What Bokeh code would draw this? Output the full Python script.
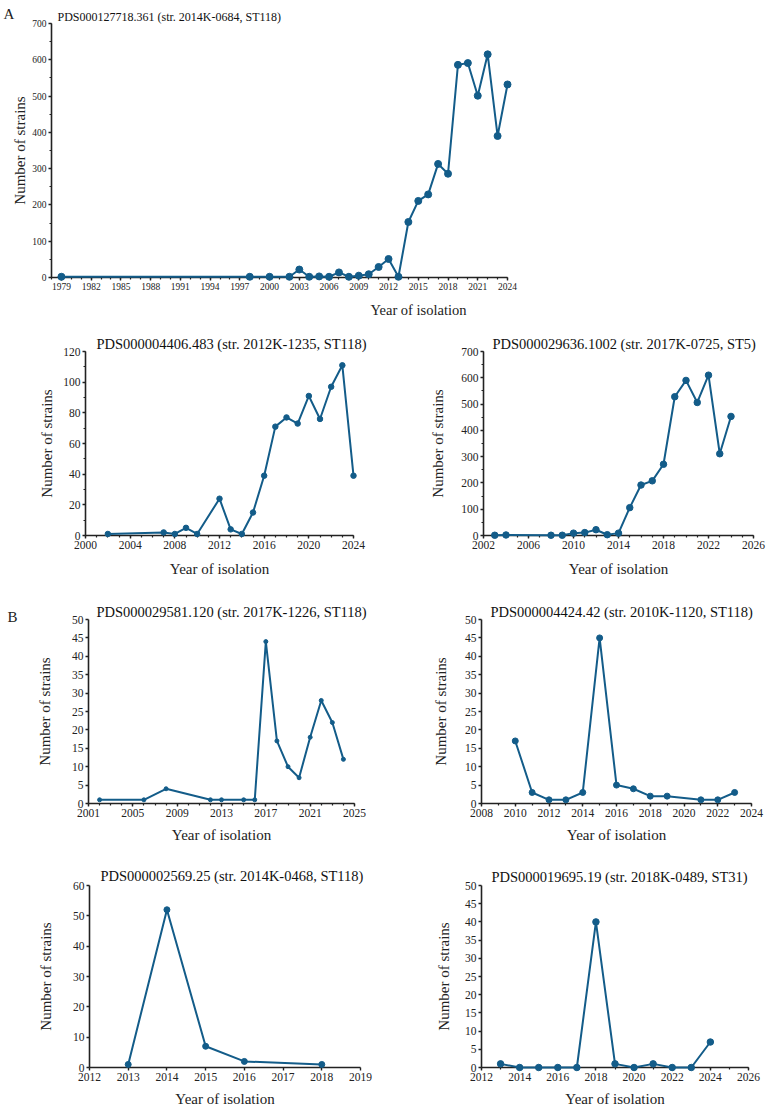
from bokeh.plotting import figure
from bokeh.layouts import column, row
from bokeh.models import Range1d, FixedTicker
from bokeh.core.properties import value
from bokeh.embed import file_html
from bokeh.resources import INLINE

# ---------------- data ----------------
a1_years = [1979, 1998, 2000, 2002, 2003, 2004, 2005, 2006, 2007, 2008, 2009, 2010, 2011, 2012,
            2013, 2014, 2015, 2016, 2017, 2018, 2019, 2020, 2021, 2022, 2023, 2024]
a1_counts = [2, 2, 2, 2, 22, 2, 3, 2, 14, 2, 5, 9, 29, 51,
             2, 153, 211, 229, 313, 286, 586, 591, 501, 615, 390, 532]
a1_title = "PDS000127718.361 (str. 2014K-0684, ST118)"
a1_xticks = [1979, 1982, 1985, 1988, 1991, 1994, 1997, 2000, 2003, 2006, 2009, 2012, 2015, 2018, 2021, 2024]
a1_yticks = [0, 100, 200, 300, 400, 500, 600, 700]

a2_years = [2002, 2007, 2008, 2009, 2010, 2012, 2013, 2014, 2015, 2016, 2017, 2018, 2019, 2020, 2021, 2022, 2023, 2024]
a2_counts = [1, 2, 1, 5, 1, 24, 4, 1, 15, 39, 71, 77, 73, 91, 76, 97, 111, 39]
a2_title = "PDS000004406.483 (str. 2012K-1235, ST118)"
a2_xticks = [2000, 2004, 2008, 2012, 2016, 2020, 2024]
a2_yticks = [0, 20, 40, 60, 80, 100, 120]

a3_years = [2003, 2004, 2008, 2009, 2010, 2011, 2012, 2013, 2014, 2015, 2016, 2017, 2018, 2019, 2020, 2021, 2022, 2023, 2024]
a3_counts = [1, 2, 1, 1, 9, 11, 22, 3, 9, 106, 192, 208, 271, 528, 590, 506, 610, 311, 453]
a3_title = "PDS000029636.1002 (str. 2017K-0725, ST5)"
a3_xticks = [2002, 2006, 2010, 2014, 2018, 2022, 2026]
a3_yticks = [0, 100, 200, 300, 400, 500, 600, 700]

b1_years = [2002, 2006, 2008, 2012, 2013, 2015, 2016, 2017, 2018, 2019, 2020, 2021, 2022, 2023, 2024]
b1_counts = [1, 1, 4, 1, 1, 1, 1, 44, 17, 10, 7, 18, 28, 22, 12]
b1_title = "PDS000029581.120 (str. 2017K-1226, ST118)"
b1_xticks = [2001, 2005, 2009, 2013, 2017, 2021, 2025]
b1_yticks = [0, 5, 10, 15, 20, 25, 30, 35, 40, 45, 50]

b2_years = [2010, 2011, 2012, 2013, 2014, 2015, 2016, 2017, 2018, 2019, 2021, 2022, 2023]
b2_counts = [17, 3, 1, 1, 3, 45, 5, 4, 2, 2, 1, 1, 3]
b2_title = "PDS000004424.42 (str. 2010K-1120, ST118)"
b2_xticks = [2008, 2010, 2012, 2014, 2016, 2018, 2020, 2022, 2024]
b2_yticks = [0, 5, 10, 15, 20, 25, 30, 35, 40, 45, 50]

b3_years = [2013, 2014, 2015, 2016, 2018]
b3_counts = [1, 52, 7, 2, 1]
b3_title = "PDS000002569.25 (str. 2014K-0468, ST118)"
b3_xticks = [2012, 2013, 2014, 2015, 2016, 2017, 2018, 2019]
b3_yticks = [0, 10, 20, 30, 40, 50, 60]

b4_years = [2013, 2014, 2015, 2016, 2017, 2018, 2019, 2020, 2021, 2022, 2023, 2024]
b4_counts = [1, 0, 0, 0, 0, 40, 1, 0, 1, 0, 0, 7]
b4_title = "PDS000019695.19 (str. 2018K-0489, ST31)"
b4_xticks = [2012, 2014, 2016, 2018, 2020, 2022, 2024, 2026]
b4_yticks = [0, 5, 10, 15, 20, 25, 30, 35, 40, 45, 50]

x_label = "Year of isolation"
y_label = "Number of strains"
panel_letters = ["A", "B"]

COLOR = "#135C89"
FONT = "Liberation Serif"


def panel(width, height, bl, br, bt, bb, xs, ys, title, xticks, xminor, yticks, yminor,
          msize, title_off, tick_fs="11.5px", title_fs="14.5px", xlab=True,
          ylab_standoff=10, xlab_standoff=7, title_standoff=0, xr=None):
    if xr is None:
        xr = (xticks[0], xticks[-1])
    p = figure(width=width, height=height, output_backend="svg", toolbar_location=None,
               x_range=Range1d(*xr), y_range=Range1d(yticks[0], yticks[-1]),
               min_border_left=bl, min_border_right=br, min_border_top=bt, min_border_bottom=bb)
    p.xgrid.visible = False
    p.ygrid.visible = False
    p.outline_line_color = None
    p.background_fill_color = "white"
    p.border_fill_color = "white"
    p.title.text = title
    p.title.text_font = FONT
    p.title.text_font_size = title_fs
    p.title.text_font_style = "normal"
    p.title.align = "left"
    p.title.offset = title_off
    p.title.standoff = title_standoff
    p.title.text_color = "#111111"
    p.xaxis.ticker = FixedTicker(ticks=xticks, minor_ticks=xminor)
    p.yaxis.ticker = FixedTicker(ticks=yticks, minor_ticks=yminor)
    for ax in (p.xaxis[0], p.yaxis[0]):
        ax.axis_line_width = 1.6
        ax.axis_line_color = "#222222"
        ax.major_tick_line_width = 1.4
        ax.minor_tick_line_width = 1.2
        ax.major_tick_line_color = "#222222"
        ax.minor_tick_line_color = "#222222"
        ax.major_tick_out = 3
        ax.major_tick_in = 0
        ax.minor_tick_out = 2
        ax.minor_tick_in = 0
        ax.major_label_text_font = FONT
        ax.major_label_text_font_size = tick_fs
        ax.major_label_text_color = "#222222"
        ax.major_label_standoff = 2
        ax.axis_label_text_font = FONT
        ax.axis_label_text_font_size = "15px"
        ax.axis_label_text_font_style = "normal"
        ax.axis_label_text_color = "#222222"
    p.yaxis.axis_label = y_label
    p.yaxis.axis_label_standoff = ylab_standoff
    if xlab:
        p.xaxis.axis_label = x_label
        p.xaxis.axis_label_standoff = xlab_standoff
    p.line(xs, ys, line_color=COLOR, line_width=2, level="overlay")
    p.scatter(xs, ys, size=msize, fill_color=COLOR, line_color=COLOR, level="overlay")
    return p


def corner_text(p, text, corner, dx, dy, size="15px", align="left", baseline="alphabetic"):
    """Text anchored at a frame corner (taken from the ranges) and offset in pixels."""
    cx = p.x_range.start
    cy = p.y_range.end if corner == "top" else p.y_range.start
    p.text(x=[cx], y=[cy], text=[text], x_offset=dx, y_offset=dy,
           text_font=value(FONT), text_font_size=size, text_align=align,
           text_baseline=baseline, text_color="#222222", level="overlay")


# Panel A (top, wide)
pA = panel(767, 322, 51, 260, 23, 45, a1_years, a1_counts, a1_title, a1_xticks,
           list(range(1978, 2025)), a1_yticks, list(range(0, 701, 50)), 7, 6,
           tick_fs="9.5px", title_fs="12px", xlab=False, ylab_standoff=1, xr=(1978, 2024))
corner_text(pA, x_label, "bottom", 367, 32, size="14.5px", align="center", baseline="middle")
corner_text(pA, panel_letters[0], "top", -48, -10)

pA2 = panel(384, 258, 85, 31, 27, 41, a2_years, a2_counts, a2_title, a2_xticks,
            list(range(2000, 2025)), a2_yticks, list(range(0, 121, 10)), 5.5, 11,
            ylab_standoff=5, xlab_standoff=9)
pA3 = panel(383, 258, 99, 14, 29, 45, a3_years, a3_counts, a3_title, a3_xticks,
            list(range(2002, 2027)), a3_yticks, list(range(0, 701, 50)), 6.5, 9,
            ylab_standoff=12, xlab_standoff=9)

pB1 = panel(384, 265, 88, 30, 36, 41, b1_years, b1_counts, b1_title, b1_xticks,
            list(range(2001, 2026)), b1_yticks, [], 4, 8, ylab_standoff=16)
corner_text(pB1, panel_letters[1], "top", -81, -3)
pB2 = panel(383, 265, 97, 16, 39, 38, b2_years, b2_counts, b2_title, b2_xticks,
            list(range(2008, 2025)), b2_yticks, [], 6, 9, ylab_standoff=13)

pB3 = panel(384, 264, 89, 24, 40, 38, b3_years, b3_counts, b3_title, b3_xticks,
            [], b3_yticks, [], 6, 11, ylab_standoff=16, title_standoff=4)
pB4 = panel(383, 264, 97, 19, 37, 39, b4_years, b4_counts, b4_title, b4_xticks,
            list(range(2012, 2027)), b4_yticks, [], 6.5, 10, ylab_standoff=10, title_standoff=2)

layout = column(row(pA), row(pA2, pA3), row(pB1, pB2), row(pB3, pB4), spacing=0)

with open("out.html", "w") as f:
    f.write(file_html(layout, INLINE))
